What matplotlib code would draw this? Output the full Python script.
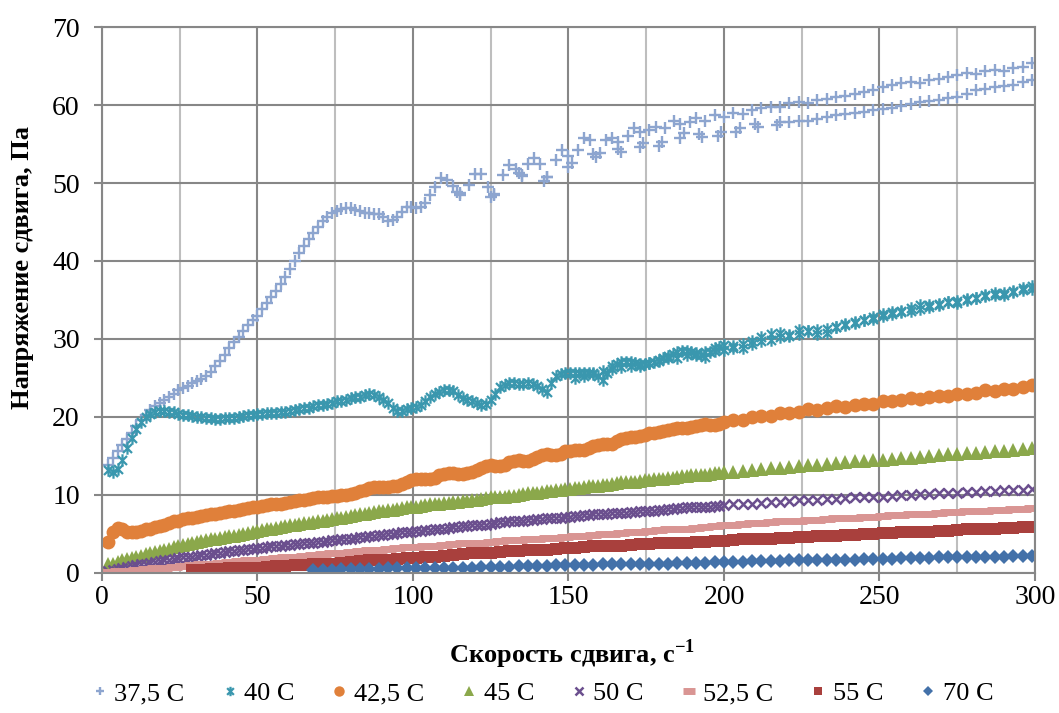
import matplotlib
matplotlib.use("Agg")
import matplotlib.pyplot as plt
from matplotlib.path import Path
import numpy as np

plt.rcParams['font.family'] = ['Liberation Serif', 'DejaVu Serif']

nan = float('nan')

# ---------------- data ----------------
# main shear-rate grid (1/s)
shear_rate = [2, 5, 8, 11, 14, 17, 20, 23, 26, 29,
              32, 35, 38, 41, 44, 47, 50, 53, 56, 59,
              62, 65, 68, 71, 74, 77, 80, 83, 86, 89,
              92, 95, 98, 101, 104, 107, 110, 113, 116, 119,
              122, 125, 128, 131, 134, 137, 140, 143, 146, 149,
              152, 155, 158, 161, 164, 167, 170, 173, 176, 179,
              182, 185, 188, 191, 194, 197, 200, 203, 206, 209,
              212, 215, 218, 221, 224, 227, 230, 233, 236, 239,
              242, 245, 248, 251, 254, 257, 260, 263, 266, 269,
              272, 275, 278, 281, 284, 287, 290, 293, 296, 299]
# second (reverse) sweep points at low shear rate
shear_rate_b = [3.5, 6.5, 9.5, 12.5, 15.5, 18.5, 21.5, 24.5, 27.5, 30.5,
                33.5, 36.5, 39.5, 42.5, 45.5, 48.5, 51.5, 54.5, 57.5, 60.5,
                63.5, 66.5, 69.5, 72.5, 75.5, 78.5, 81.5, 84.5, 87.5, 90.5,
                93.5, 96.5, 99.5, 102.5, 105.5, 108.5, 111.5, 114.5, 117.5, 120.5,
                123.5, 126.5, 129.5, 132.5, 135.5, 138.5, 141.5, 144.5, 147.5, 150.5,
                153.5, 156.5, 159.5, 162.5, 165.5, 168.5, 171.5, 174.5, 177.5, 180.5,
                183.5, 186.5, 189.5, 192.5, 195.5, 198.5]

# 37.5 C
rate_375_up = [2, 5, 8, 11, 14, 17, 20, 23, 26, 29, 32, 35, 38, 41, 44, 47, 50, 53, 56, 59,
               62, 65, 68, 71, 74, 77, 80, 83, 86, 89, 92, 95, 98, 101, 104,
               107, 109, 111, 113, 115, 118, 120, 122, 124, 126, 129, 131, 133, 135, 137,
               139, 141, 143, 146, 148, 150, 153, 155, 157, 160, 162, 164, 166, 169, 171,
               173, 176, 178, 181, 184, 186, 189, 191, 194, 197, 200, 203, 206, 209, 212,
               215, 218, 221, 224, 227, 230, 233, 236, 239, 242, 245, 248, 251, 254, 257,
               260, 263, 266, 269, 272, 275, 278, 281, 284, 287, 290, 293, 296, 299]
stress_375_up = [13.8, 15.6, 17.2, 18.9, 20.3, 21.4, 22.2, 23.0, 23.7, 24.3,
                 24.9, 25.8, 27.2, 28.8, 30.3, 31.8, 33.0, 34.6, 36.2, 38.0,
                 40.0, 41.9, 43.6, 45.1, 46.1, 46.7, 46.8, 46.4, 46.1, 46.0,
                 45.1, 45.7, 46.9, 46.8, 47.4,
                 49.5, 50.6, 50.4, 49.6, 48.7, 49.8, 51.2, 51.1, 49.5, 48.5,
                 51.0, 52.3, 51.8, 51.0, 52.5, 53.2, 52.5, 50.8, 53.0, 54.2,
                 53.5, 54.2, 55.8, 55.5, 53.8, 55.5, 55.8, 55.2, 56.0, 57.0,
                 56.5, 56.8, 57.2, 57.0, 58.0, 57.6, 57.8, 58.3, 58.0, 58.7,
                 58.4, 59.0, 58.8, 59.4, 59.6, 59.7, 59.8, 60.2, 60.4, 60.3,
                 60.6, 60.8, 61.0, 61.2, 61.4, 61.7, 61.9, 62.3, 62.6, 62.8,
                 63.0, 62.8, 63.2, 63.3, 63.6, 63.8, 64.1, 64.0, 64.4, 64.5,
                 64.4, 64.8, 64.9, 65.4]
# low-rate reverse points at shear_rate_b[:35]
stress_375_b = [14.7, 16.4, 18.0, 19.6, 20.9, 21.8, 22.6, 23.4, 24.0, 24.6,
                25.3, 26.5, 28.0, 29.6, 31.0, 32.4, 33.8, 35.4, 37.1, 39.0,
                41.0, 42.8, 44.4, 45.6, 46.4, 46.8, 46.6, 46.2, 46.0, 45.6,
                45.2, 46.3, 46.9, 46.9, 48.4]
rate_375_down = [299, 296, 293, 290, 287, 284, 281, 278, 275, 272, 269, 266, 263, 260, 257,
                 254, 251, 248, 245, 242, 239, 236, 233, 230, 227, 224, 221, 218, 217, 211,
                 210, 205, 204, 199, 198, 193, 192, 187, 186, 180, 179, 174, 173, 167, 166,
                 159, 158, 151, 150, 143, 142, 135, 134, 126, 125, 115, 114]
stress_375_down = [63.2, 63.0, 62.6, 62.4, 62.3, 62.0, 61.9, 61.4, 61.0, 60.9, 60.7, 60.5, 60.4,
                   60.1, 59.9, 59.6, 59.5, 59.3, 59.1, 59.0, 58.8, 58.7, 58.5, 58.2, 58.0,
                   57.9, 57.8, 57.8, 57.4, 57.2, 57.6, 57.0, 56.5, 56.5, 56.0, 55.9, 56.3,
                   56.4, 55.8, 55.3, 54.8, 55.1, 54.6, 54.0, 54.4, 53.3, 53.7, 52.6, 52.1,
                   50.8, 50.2, 50.9, 51.3, 48.6, 48.2, 48.5, 48.9]

# 40 C
stress_40 = [13.2, 13.3, 16.0, 18.5, 20.0, 20.7, 20.8, 20.6, 20.3, 20.1,
             20.0, 19.9, 19.8, 19.9, 20.0, 20.2, 20.4, 20.5, 20.5, 20.7,
             20.9, 21.1, 21.4, 21.6, 21.8, 22.1, 22.4, 22.6, 22.9, 22.6,
             21.8, 20.8, 21.0, 21.3, 22.0, 22.9, 23.4, 23.3, 22.4, 22.0,
             21.6, 22.2, 23.8, 24.3, 24.2, 24.3, 24.0, 23.2, 25.3, 25.6,
             25.7, 25.6, 25.6, 24.8, 26.5, 27.0, 27.0, 26.8, 26.9, 27.2,
             27.8, 28.3, 28.4, 28.2, 27.7, 28.8, 29.2, 29.1, 28.8, 29.8,
             30.2, 30.6, 30.8, 30.5, 31.1, 31.0, 30.6, 30.8, 31.5, 31.8,
             32.0, 32.4, 32.8, 33.2, 33.5, 33.6, 34.0, 34.3, 34.4, 34.3,
             34.7, 34.6, 35.0, 35.3, 35.6, 35.9, 35.7, 36.1, 36.3, 36.4]
stress_40_b = [13.0, 14.5, 17.3, 19.3, 20.4, 20.8, 20.7, 20.4, 20.2, 20.0,
               19.9, 19.8, 19.9, 19.9, 20.1, 20.3, 20.4, 20.5, 20.6, 20.8,
               21.0, 21.2, 21.5, 21.7, 22.0, 22.2, 22.5, 22.8, 22.8, 22.2,
               21.2, 20.8, 21.1, 21.6, 22.5, 23.2, 23.4, 22.8, 22.2, 21.8,
               21.7, 23.0, 24.1, 24.3, 24.2, 24.2, 23.6, 24.3, 25.5, 25.7,
               25.6, 25.6, 25.2, 25.6, 26.8, 27.0, 26.9, 26.8, 27.0, 27.5,
               28.1, 28.4, 28.3, 27.9, 28.3, 29.0]
# reverse sweep at shear_rate[50:]
stress_40_down = [25.0, 25.2, 25.5, 25.9, 26.2, 26.4, 26.5, 26.6, 26.9, 27.3,
                  27.5, 27.6, 27.9, 28.0, 28.3, 28.5, 28.6, 28.9, 29.3, 29.4,
                  29.7, 29.9, 30.2, 30.4, 30.6, 31.0, 31.2, 31.3, 31.6, 31.9,
                  32.2, 32.4, 32.6, 32.9, 33.2, 33.4, 33.6, 33.9, 34.1, 34.5,
                  34.7, 34.9, 35.1, 35.3, 35.5, 35.6, 35.9, 36.0, 36.6, 36.8]

# 42.5 C
stress_425 = [4.0, 5.8, 5.2, 5.3, 5.6, 5.9, 6.2, 6.6, 6.9, 7.1,
              7.3, 7.5, 7.7, 7.9, 8.1, 8.3, 8.5, 8.7, 8.9, 9.0,
              9.2, 9.4, 9.6, 9.8, 9.9, 10.0, 10.1, 10.5, 10.9, 11.0,
              11.0, 11.2, 11.7, 12.1, 12.1, 12.2, 12.7, 12.8, 12.7, 12.9,
              13.5, 13.8, 13.7, 14.2, 14.5, 14.4, 14.9, 15.2, 15.1, 15.6,
              15.8, 15.8, 16.3, 16.5, 16.6, 17.2, 17.4, 17.5, 18.0, 18.1,
              18.3, 18.6, 18.6, 18.9, 19.1, 19.0, 19.3, 19.6, 19.6, 20.0,
              20.1, 20.1, 20.5, 20.5, 20.7, 21.0, 20.9, 21.1, 21.4, 21.3,
              21.6, 21.7, 21.7, 22.0, 22.0, 22.2, 22.4, 22.3, 22.6, 22.7,
              22.7, 23.0, 23.0, 23.1, 23.4, 23.3, 23.6, 23.6, 23.8, 24.1]
stress_425_b = [5.2, 5.6, 5.2, 5.4, 5.7, 6.0, 6.4, 6.7, 7.0, 7.2,
                7.4, 7.6, 7.8, 8.0, 8.2, 8.4, 8.6, 8.8, 8.9, 9.1,
                9.3, 9.5, 9.7, 9.8, 9.9, 10.0, 10.3, 10.7, 11.0, 11.0,
                11.1, 11.4, 11.9, 12.1, 12.1, 12.5, 12.8, 12.7, 12.8, 13.2,
                13.7, 13.7, 13.9, 14.4, 14.4, 14.6, 15.1, 15.1, 15.3, 15.7,
                15.8, 16.0, 16.4, 16.5, 16.9, 17.3, 17.4, 17.7, 18.0, 18.2,
                18.5, 18.6, 18.7, 19.0, 19.0, 19.1]

# 45 C
stress_45 = [1.1, 1.4, 1.8, 2.1, 2.4, 2.7, 3.0, 3.3, 3.6, 3.9,
             4.1, 4.3, 4.5, 4.7, 4.9, 5.1, 5.4, 5.6, 5.8, 6.0,
             6.2, 6.4, 6.5, 6.7, 6.9, 7.1, 7.3, 7.5, 7.7, 7.9,
             8.1, 8.2, 8.4, 8.5, 8.7, 8.9, 9.0, 9.1, 9.2, 9.3,
             9.5, 9.7, 9.8, 9.9, 10.0, 10.2, 10.3, 10.5, 10.6, 10.8,
             10.9, 11.0, 11.2, 11.3, 11.4, 11.6, 11.7, 11.8, 11.9, 12.1,
             12.2, 12.3, 12.4, 12.5, 12.6, 12.8, 12.9, 13.0, 13.1, 13.2,
             13.3, 13.4, 13.5, 13.6, 13.7, 13.8, 13.9, 14.0, 14.1, 14.2,
             14.3, 14.4, 14.5, 14.5, 14.6, 14.7, 14.8, 14.9, 15.0, 15.1,
             15.2, 15.3, 15.4, 15.4, 15.5, 15.6, 15.7, 15.8, 15.9, 16.0]
stress_45_b = [1.2, 1.6, 1.9, 2.2, 2.5, 2.8, 3.1, 3.4, 3.7, 4.0,
               4.2, 4.4, 4.6, 4.8, 5.0, 5.2, 5.5, 5.7, 5.9, 6.1,
               6.3, 6.4, 6.6, 6.8, 7.0, 7.2, 7.4, 7.6, 7.8, 8.0,
               8.1, 8.3, 8.4, 8.6, 8.8, 8.9, 9.0, 9.1, 9.2, 9.4,
               9.6, 9.7, 9.8, 9.9, 10.1, 10.2, 10.4, 10.5, 10.7, 10.8,
               10.9, 11.1, 11.2, 11.3, 11.5, 11.6, 11.7, 11.9, 12.0, 12.1,
               12.2, 12.4, 12.5, 12.6, 12.7, 12.8]

# 50 C
stress_50 = [0.3, 0.5, 0.8, 1.0, 1.2, 1.4, 1.6, 1.8, 2.0, 2.1,
             2.3, 2.4, 2.6, 2.8, 2.9, 3.1, 3.2, 3.3, 3.5, 3.6,
             3.7, 3.8, 3.9, 4.0, 4.2, 4.3, 4.4, 4.6, 4.7, 4.9,
             5.0, 5.1, 5.3, 5.4, 5.5, 5.6, 5.7, 5.9, 6.0, 6.1,
             6.2, 6.3, 6.5, 6.6, 6.7, 6.8, 6.9, 7.0, 7.1, 7.2,
             7.3, 7.4, 7.5, 7.6, 7.7, 7.7, 7.8, 7.9, 8.0, 8.1,
             8.2, 8.3, 8.4, 8.4, 8.5, 8.6, 8.7, 8.8, 8.9, 8.9,
             9.0, 9.1, 9.1, 9.2, 9.3, 9.3, 9.4, 9.5, 9.5, 9.6,
             9.7, 9.7, 9.8, 9.8, 9.9, 10.0, 10.0, 10.1, 10.1, 10.2,
             10.3, 10.3, 10.4, 10.4, 10.5, 10.5, 10.6, 10.7, 10.7, 10.8]
stress_50_b = [0.4, 0.6, 0.9, 1.1, 1.3, 1.5, 1.7, 1.9, 2.0, 2.2,
               2.3, 2.5, 2.7, 2.8, 3.0, 3.1, 3.2, 3.4, 3.5, 3.6,
               3.7, 3.8, 4.0, 4.1, 4.2, 4.3, 4.5, 4.6, 4.8, 4.9,
               5.0, 5.2, 5.3, 5.4, 5.5, 5.6, 5.8, 5.9, 6.0, 6.1,
               6.2, 6.4, 6.5, 6.6, 6.7, 6.8, 6.9, 7.0, 7.1, 7.2,
               7.3, 7.4, 7.5, 7.6, 7.7, 7.7, 7.8, 7.9, 8.0, 8.1,
               8.2, 8.3, 8.4, 8.4, 8.5, 8.6]

# 52.5 C
stress_525 = [0.1, 0.2, 0.3, 0.4, 0.5, 0.6, 0.7, 0.8, 0.9, 1.0,
              1.1, 1.2, 1.3, 1.4, 1.5, 1.6, 1.7, 1.8, 1.9, 2.0,
              2.1, 2.2, 2.3, 2.4, 2.5, 2.6, 2.7, 2.8, 2.9, 3.0,
              3.1, 3.2, 3.3, 3.3, 3.4, 3.5, 3.6, 3.7, 3.8, 3.8,
              3.9, 4.0, 4.1, 4.2, 4.2, 4.3, 4.4, 4.5, 4.5, 4.6,
              4.7, 4.8, 4.9, 5.0, 5.0, 5.1, 5.2, 5.3, 5.4, 5.5,
              5.6, 5.6, 5.7, 5.8, 5.9, 6.0, 6.1, 6.2, 6.3, 6.4,
              6.4, 6.5, 6.6, 6.6, 6.7, 6.8, 6.8, 6.9, 7.0, 7.0,
              7.1, 7.2, 7.2, 7.3, 7.4, 7.4, 7.5, 7.6, 7.6, 7.7,
              7.8, 7.8, 7.9, 8.0, 8.0, 8.1, 8.1, 8.2, 8.2, 8.3]

# 55 C
stress_55 = [nan, nan, nan, nan, nan, nan, nan, nan, nan, 0.4,
             0.4, 0.5, 0.5, 0.6, 0.6, 0.7, 0.7, 0.8, 0.9, 0.9,
             1.0, 1.0, 1.1, 1.2, 1.2, 1.3, 1.4, 1.5, 1.6, 1.7,
             1.7, 1.8, 1.9, 1.9, 2.0, 2.1, 2.2, 2.3, 2.4, 2.5,
             2.5, 2.6, 2.7, 2.8, 2.8, 2.9, 3.0, 3.0, 3.1, 3.2,
             3.2, 3.3, 3.4, 3.4, 3.5, 3.5, 3.6, 3.7, 3.7, 3.8,
             3.8, 3.9, 3.9, 4.0, 4.0, 4.1, 4.1, 4.2, 4.3, 4.3,
             4.4, 4.4, 4.5, 4.5, 4.6, 4.6, 4.7, 4.8, 4.8, 4.9,
             4.9, 5.0, 5.0, 5.1, 5.1, 5.2, 5.2, 5.3, 5.3, 5.4,
             5.4, 5.5, 5.6, 5.6, 5.7, 5.7, 5.8, 5.8, 5.9, 5.9]

# 70 C
stress_70 = [nan, nan, nan, nan, nan, nan, nan, nan, nan, nan,
             nan, nan, nan, nan, nan, nan, nan, nan, nan, nan,
             nan, nan, 0.4, 0.4, 0.4, 0.5, 0.5, 0.5, 0.5, 0.5,
             0.6, 0.6, 0.6, 0.6, 0.6, 0.7, 0.7, 0.7, 0.7, 0.7,
             0.8, 0.8, 0.8, 0.8, 0.9, 0.9, 0.9, 0.9, 1.0, 1.0,
             1.0, 1.0, 1.0, 1.1, 1.1, 1.1, 1.1, 1.2, 1.2, 1.2,
             1.2, 1.3, 1.3, 1.3, 1.3, 1.4, 1.4, 1.4, 1.4, 1.5,
             1.5, 1.5, 1.5, 1.6, 1.6, 1.6, 1.6, 1.7, 1.7, 1.7,
             1.7, 1.8, 1.8, 1.8, 1.8, 1.9, 1.9, 1.9, 1.9, 2.0,
             2.0, 2.0, 2.0, 2.1, 2.1, 2.1, 2.1, 2.2, 2.2, 2.2]

series_labels = ['37,5 C', '40 C', '42,5 C', '45 C', '50 C', '52,5 C', '55 C', '70 C']
x_ticks = [0, 50, 100, 150, 200, 250, 300]
x_minor_ticks = [25, 75, 125, 175, 225, 275]
y_ticks = [0, 10, 20, 30, 40, 50, 60, 70]

# ---------------- styles ----------------
star_path = Path([(0, -1), (0, 1), (-0.72, -0.72), (0.72, 0.72), (-0.72, 0.72), (0.72, -0.72)],
                 [Path.MOVETO, Path.LINETO, Path.MOVETO, Path.LINETO, Path.MOVETO, Path.LINETO])

c375 = '#8DA5CF'
c40 = '#3A97AE'
c425 = '#E0803A'
c45 = '#8BA84B'
c50 = '#6B4F8E'
c525 = '#D99593'
c55 = '#A9403D'
c70 = '#4371A9'
grid_dark = '#878787'
grid_light = '#BEBEBE'

fig = plt.figure(figsize=(10.59, 7.13), dpi=100)
ax = fig.add_axes([0.0963, 0.1964, 0.8810, 0.7657])

x = np.array(shear_rate)
xb = np.array(shear_rate_b)
handles = []

st = dict(ls='none', marker='+', ms=8, mew=1.7, color=c375)
h, = ax.plot(rate_375_up, stress_375_up, **st)
ax.plot(xb[:35], stress_375_b, **st)
ax.plot(rate_375_down, stress_375_down, **st)
handles.append(h)

st = dict(ls='none', marker=star_path, ms=9, mew=1.6, color=c40, mfc='none')
h, = ax.plot(x, stress_40, **st)
ax.plot(xb, stress_40_b, **st)
ax.plot(x[50:], stress_40_down, **st)
handles.append(h)

st = dict(ls='none', marker='o', ms=10, mew=0, color=c425)
h, = ax.plot(x, stress_425, **st)
ax.plot(xb, stress_425_b, **st)
handles.append(h)

st = dict(ls='none', marker='^', ms=10, mew=0, color=c45)
h, = ax.plot(x, stress_45, **st)
ax.plot(xb, stress_45_b, **st)
handles.append(h)

st = dict(ls='none', marker='x', ms=7.5, mew=1.8, color=c50)
h, = ax.plot(x, stress_50, **st)
ax.plot(xb, stress_50_b, **st)
handles.append(h)

h, = ax.plot(x, stress_525, ls='none', marker='_', ms=11, mew=5, color=c525)
handles.append(h)
h, = ax.plot(x, stress_55, ls='none', marker='s', ms=8.5, mew=0, color=c55)
handles.append(h)
h, = ax.plot(x, stress_70, ls='none', marker='D', ms=7, mew=0, color=c70)
handles.append(h)

ax.set_xlim(0, 300)
ax.set_ylim(0, 70)
ax.set_xticks(x_ticks)
ax.set_yticks(y_ticks)
ax.set_xticks(x_minor_ticks, minor=True)
ax.grid(True, which='major', color=grid_dark, lw=1.5)
ax.grid(True, which='minor', axis='x', color=grid_light, lw=1.5)
ax.set_axisbelow(True)
for s in ax.spines.values():
    s.set_color(grid_dark)
    s.set_linewidth(1.5)
ax.tick_params(which='major', direction='out', length=6, width=1.5, color=grid_dark,
               labelsize=20, labelcolor='black')
ax.tick_params(which='minor', length=0)
ax.tick_params(axis='y', pad=10)
ax.tick_params(axis='x', pad=3)

ax.set_xlabel('Скорость сдвига, с$^{\\mathregular{-1}}$', fontsize=19, fontweight='bold')
ax.xaxis.set_label_coords(0.504, -0.118)
ax.set_ylabel('Напряжение сдвига, Па', fontsize=19, fontweight='bold')
ax.yaxis.set_label_coords(-0.073, 0.56)

fig.legend(handles, series_labels, loc='center', bbox_to_anchor=(0.51, 0.027), ncol=8,
           frameon=False, fontsize=19, handletextpad=0.05, columnspacing=1.2,
           handlelength=1.0, markerscale=0.75)

fig.savefig('out.png', dpi=100)
